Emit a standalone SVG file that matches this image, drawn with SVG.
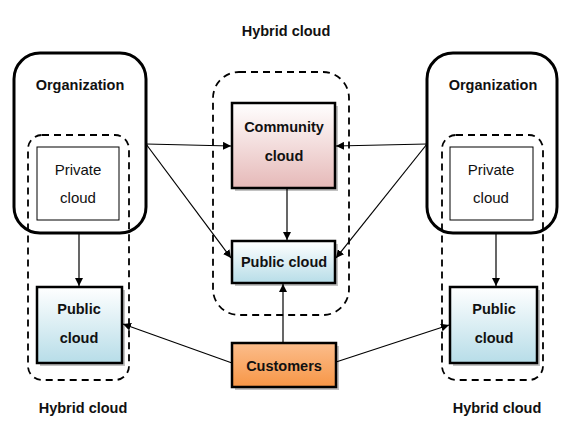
<svg xmlns="http://www.w3.org/2000/svg" width="584" height="429" viewBox="0 0 584 429">
<style>
text{font-family:"Liberation Sans",Arial,sans-serif;font-size:14.5px;text-anchor:middle;fill:#111}
.b{font-weight:bold}
.r{font-size:15px}
.org{fill:#fff;stroke:#000;stroke-width:3}
.dash{fill:none;stroke:#000;stroke-width:1.8;stroke-dasharray:7 5}
.priv{fill:#fff;stroke:#000;stroke-width:1}
.box{stroke:#000;stroke-width:2.5}
.sh{fill:#9a9a9a;opacity:0.6}
.c line{stroke:#000;stroke-width:1.2;marker-end:url(#a)}
</style>
<defs>
<marker id="a" viewBox="0 0 10 10" refX="10" refY="5" markerWidth="8" markerHeight="8" markerUnits="userSpaceOnUse" orient="auto"><path d="M0,0L10,5L0,10z" fill="#000"/></marker>
<linearGradient id="blue" x1="0" y1="0" x2="0" y2="1"><stop offset="0" stop-color="#ffffff"/><stop offset="1" stop-color="#b7dde8"/></linearGradient>
<linearGradient id="pink" x1="0" y1="0" x2="0" y2="1"><stop offset="0" stop-color="#ffffff"/><stop offset="1" stop-color="#e6b9b8"/></linearGradient>
<linearGradient id="orange" x1="0" y1="0" x2="0" y2="1"><stop offset="0" stop-color="#fbbd8c"/><stop offset="1" stop-color="#f79646"/></linearGradient>
</defs>
<rect width="584" height="429" fill="#fff"/>
<text class="b" x="286" y="36">Hybrid cloud</text>

<g id="org-left">
<rect class="org" x="14" y="53" width="132" height="180" rx="26"/>
<text class="b" x="80" y="90">Organization</text>
</g>
<g id="hybrid-left">
<rect class="dash" x="28" y="135" width="101" height="245" rx="14"/>
<text class="b" x="83" y="413">Hybrid cloud</text>
</g>
<g id="private-left">
<rect class="priv" x="37" y="147" width="82" height="73"/>
<text class="r" x="78" y="175">Private</text>
<text class="r" x="78" y="203">cloud</text>
</g>
<g id="public-left">
<rect class="sh" x="40" y="290" width="85" height="76"/>
<rect class="box" x="37" y="287" width="85" height="76" fill="url(#blue)"/>
<text class="b" x="79" y="314">Public</text>
<text class="b" x="79" y="343">cloud</text>
</g>

<g id="hybrid-center">
<rect class="dash" x="213" y="72" width="136" height="243" rx="26"/>
</g>
<g id="community">
<rect class="sh" x="235" y="106" width="103" height="85"/>
<rect class="box" x="232" y="103" width="103" height="85" fill="url(#pink)"/>
<text class="b" x="284" y="132">Community</text>
<text class="b" x="284" y="161">cloud</text>
</g>
<g id="public-center">
<rect class="sh" x="235" y="244" width="103" height="42"/>
<rect class="box" x="232" y="241" width="103" height="42" fill="url(#blue)"/>
<text class="b" x="284" y="267">Public cloud</text>
</g>

<g id="org-right">
<rect class="org" x="427" y="53" width="130" height="180" rx="26"/>
<text class="b" x="493" y="90">Organization</text>
</g>
<g id="hybrid-right">
<rect class="dash" x="442" y="135" width="101" height="245" rx="14"/>
<text class="b" x="497" y="413">Hybrid cloud</text>
</g>
<g id="private-right">
<rect class="priv" x="450" y="147" width="83" height="73"/>
<text class="r" x="491" y="175">Private</text>
<text class="r" x="491" y="203">cloud</text>
</g>
<g id="public-right">
<rect class="sh" x="453" y="290" width="87" height="76"/>
<rect class="box" x="450" y="287" width="87" height="76" fill="url(#blue)"/>
<text class="b" x="494" y="314">Public</text>
<text class="b" x="494" y="343">cloud</text>
</g>

<g id="customers">
<rect class="sh" x="235" y="346" width="104" height="44"/>
<rect class="box" x="232" y="343" width="104" height="44" fill="url(#orange)"/>
<text class="b" x="284" y="371">Customers</text>
</g>

<g class="c" id="connectors">
<line x1="79" y1="233" x2="79" y2="286"/>
<line x1="496" y1="233" x2="496" y2="286"/>
<line x1="146" y1="144" x2="231" y2="146"/>
<line x1="146" y1="144" x2="231" y2="258"/>
<line x1="427" y1="144" x2="336" y2="146"/>
<line x1="427" y1="144" x2="336" y2="258"/>
<line x1="287" y1="188" x2="287" y2="240"/>
<line x1="283" y1="343" x2="283" y2="284"/>
<line x1="232" y1="363" x2="123" y2="324"/>
<line x1="336" y1="362" x2="449" y2="325"/>
</g>
</svg>
